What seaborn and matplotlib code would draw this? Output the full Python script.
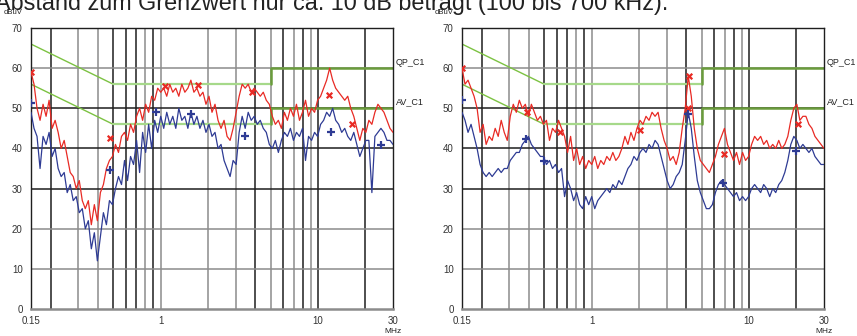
import numpy as np
import pandas as pd
import seaborn as sns
import matplotlib.pyplot as plt
import matplotlib.transforms as mtransforms

#################
# Measured data #
#################

# receiver sweep grid (MHz), same for all four traces
freq = np.geomspace(0.15, 30, 121)

left_qp = [59, 56, 50, 47, 51, 48, 52, 45, 47, 44, 40, 42, 38, 34, 33, 30, 32, 27, 25, 27,
           21, 26, 22, 29, 31, 35, 37, 38, 41, 39, 43, 44, 42, 46, 44, 48, 50, 47, 51, 49,
           53, 52, 55, 54, 55, 53, 56, 54, 55, 53, 56, 54, 55, 57, 54, 55, 53, 54, 51, 53,
           49, 51, 47, 45, 47, 43, 42, 45, 49, 53, 56, 55, 56, 54, 55, 54, 53, 54, 52, 51,
           48, 46, 47, 45, 49, 47, 50, 48, 51, 47, 49, 52, 48, 50, 49, 52, 53, 55, 57, 60,
           57, 55, 54, 53, 52, 53, 50, 48, 45, 42, 45, 44, 47, 46, 49, 51, 50, 49, 47, 45,
           44]
left_av = [49, 45, 43, 35, 43, 41, 44, 38, 40, 35, 33, 34, 29, 31, 27, 28, 24, 25, 20, 22,
           15, 19, 12, 18, 24, 21, 27, 26, 30, 33, 31, 37, 32, 38, 36, 42, 34, 44, 39, 46,
           40, 47, 44, 48, 45, 49, 46, 48, 45, 50, 47, 48, 45, 49, 46, 48, 45, 47, 44, 46,
           43, 44, 40, 41, 37, 35, 33, 37, 36, 44, 48, 45, 49, 47, 48, 46, 47, 45, 44, 41,
           40, 42, 39, 42, 44, 43, 45, 42, 44, 43, 45, 37, 43, 42, 44, 43, 46, 47, 49, 48,
           50, 47, 46, 44, 45, 43, 42, 44, 41, 38, 40, 42, 42, 29, 43, 44, 45, 44, 42, 42,
           41]
right_qp = [60, 56, 57, 55, 53, 50, 44, 46, 41, 43, 42, 45, 43, 47, 44, 42, 48, 51, 49, 52,
            50, 51, 48, 51, 49, 47, 48, 46, 47, 42, 45, 44, 47, 45, 43, 39, 43, 37, 40, 36,
            38, 35, 37, 36, 38, 35, 37, 36, 38, 37, 39, 37, 38, 40, 43, 41, 44, 42, 45, 47,
            46, 48, 47, 49, 48, 49, 45, 42, 40, 37, 38, 36, 39, 45, 50, 58, 53, 45, 40, 37,
            36, 35, 34, 36, 38, 41, 43, 45, 41, 39, 37, 39, 36, 39, 37, 38, 41, 43, 42, 43,
            41, 42, 40, 41, 40, 42, 40, 41, 43, 47, 50, 51, 47, 48, 48, 46, 45, 43, 42, 41,
            40]
right_av = [49, 47, 44, 46, 43, 40, 36, 34, 33, 34, 33, 34, 35, 34, 35, 35, 37, 38, 39, 39,
            41, 42, 43, 41, 40, 39, 38, 38, 36, 37, 35, 36, 34, 35, 28, 32, 30, 27, 29, 26,
            25, 28, 26, 28, 25, 27, 28, 29, 30, 29, 31, 30, 32, 31, 33, 35, 36, 38, 37, 39,
            40, 39, 41, 40, 42, 41, 38, 35, 32, 30, 31, 33, 34, 36, 42, 49, 45, 38, 32, 29,
            27, 25, 25, 26, 29, 31, 32, 31, 30, 29, 28, 29, 27, 28, 27, 28, 30, 31, 30, 29,
            31, 30, 28, 30, 29, 31, 32, 34, 37, 41, 43, 42, 40, 41, 40, 39, 40, 38, 37, 36,
            36]

# final measurement points
left_qp_mark_f = [0.15, 0.48, 1.07, 1.73, 3.8, 11.8, 16.5]
left_qp_mark_v = [59, 42.5, 55.5, 55.7, 54, 53.3, 46]
left_av_mark_f = [0.15, 0.48, 0.94, 1.55, 3.42, 12.1, 25.2]
left_av_mark_v = [51.2, 34.7, 49, 48.5, 43, 44, 40.8]
right_qp_mark_f = [0.15, 0.39, 0.63, 2.04, 4.14, 4.1, 6.9, 20.4]
right_qp_mark_v = [60, 49, 44, 44.7, 58, 50, 38.5, 46]
right_av_mark_f = [0.15, 0.38, 0.5, 4.1, 6.8, 20]
right_av_mark_v = [52, 42.3, 36.8, 48.5, 31.5, 39.3]

# limit lines (EN 55022 class B style)
qp_slope_f, qp_slope_v = [0.15, 0.5], [66, 56]
qp_mid_f, qp_mid_v = [0.5, 5], [56, 56]
qp_high_f, qp_high_v = [5, 5, 30], [56, 60, 60]
av_slope_f, av_slope_v = [0.15, 0.5], [56, 46]
av_mid_f, av_mid_v = [0.5, 5], [46, 46]
av_high_f, av_high_v = [5, 5, 30], [46, 50, 50]

grid_f = [0.2, 0.3, 0.4, 0.5, 0.6, 0.7, 0.8, 0.9, 1, 2, 3, 4, 5, 6, 7, 8, 9, 10, 20]
grid_dark = [1, 0, 0, 1, 1, 1, 0, 1, 0, 0, 0, 1, 0, 1, 0, 1, 0, 1, 1]
grid_db = [10, 20, 30, 40, 50, 60]
grid_db_dark = [0, 0, 1, 1, 1, 0]

title_text = "Abstand zum Grenzwert nur ca. 10 dB beträgt (100 bis 700 kHz)."

###########
# Drawing #
###########

sns.set_style("white")
plt.rcParams['font.family'] = ['Liberation Sans', 'DejaVu Sans']

RED = '#e82a24'
BLUE = '#2e3b94'
DARK = '#1e1e1e'
GREY = '#8c8c8c'

fig = plt.figure(figsize=(8.57, 3.36), dpi=100)
ax_l = fig.add_axes([31 / 857, 1 - 309 / 336, 362 / 857, 281 / 336])
ax_r = fig.add_axes([462 / 857, 1 - 309 / 336, 362 / 857, 281 / 336])


def draw_panel(ax, qp, av, qp_mf, qp_mv, av_mf, av_mv):
    ax.set_xscale('log')
    ax.set_xlim(0.15, 30)
    ax.set_ylim(0, 70)

    for f, d in zip(grid_f, grid_dark):
        ax.axvline(f, color=DARK if d else GREY, lw=1.1, zorder=1)
    for v, d in zip(grid_db, grid_db_dark):
        ax.axhline(v, color=DARK if d else GREY, lw=1.1, zorder=1)

    ax.plot(qp_slope_f, qp_slope_v, color='#7cc242', lw=1.0, zorder=2)
    ax.plot(av_slope_f, av_slope_v, color='#7cc242', lw=1.0, zorder=2)
    ax.plot(qp_mid_f, qp_mid_v, color='#a6d98a', lw=1.6, zorder=2)
    ax.plot(av_mid_f, av_mid_v, color='#a6d98a', lw=1.6, zorder=2)
    ax.plot(qp_high_f, qp_high_v, color='#6a9c3c', lw=1.8, zorder=2)
    ax.plot(av_high_f, av_high_v, color='#6a9c3c', lw=1.8, zorder=2)

    sns.lineplot(x=freq, y=av, ax=ax, color=BLUE, lw=0.9, estimator=None, zorder=3)
    sns.lineplot(x=freq, y=qp, ax=ax, color=RED, lw=0.9, estimator=None, zorder=4)
    sns.scatterplot(x=qp_mf, y=qp_mv, ax=ax, marker='x', color=RED, s=16,
                    linewidth=1.6, zorder=5)
    sns.scatterplot(x=av_mf, y=av_mv, ax=ax, marker='+', color=BLUE, s=26,
                    linewidth=1.6, zorder=5)

    ax.set_xticks([0.15, 1, 10, 30])
    ax.set_xticklabels(['0.15', '1', '10', '30'])
    ax.minorticks_off()
    ax.set_yticks([0, 10, 20, 30, 40, 50, 60, 70])
    ax.tick_params(axis='both', length=0, labelsize=7, colors='#333333')
    ax.tick_params(axis='y', pad=6)
    ax.tick_params(axis='x', pad=5)
    ax.set_xlabel('')
    ax.set_ylabel('')

    for side in ['left', 'top', 'right']:
        ax.spines[side].set_color(DARK)
        ax.spines[side].set_linewidth(1.0)
    ax.spines['bottom'].set_color(GREY)
    ax.spines['bottom'].set_linewidth(1.8)

    tr = mtransforms.blended_transform_factory(ax.transAxes, ax.transData)
    ax.text(1.008, 60.4, 'QP_C1', transform=tr, fontsize=6.5, color='#222222', va='bottom')
    ax.text(1.008, 50.4, 'AV_C1', transform=tr, fontsize=6.5, color='#222222', va='bottom')
    ax.text(1.0, -4.8, 'MHz', transform=tr, fontsize=6.0, color='#222222', ha='center', va='top')
    ax.text(-0.075, 73.0, 'dBuV', transform=tr, fontsize=5.5, color='#222222', va='bottom')


draw_panel(ax_l, left_qp, left_av, left_qp_mark_f, left_qp_mark_v, left_av_mark_f, left_av_mark_v)
draw_panel(ax_r, right_qp, right_av, right_qp_mark_f, right_qp_mark_v, right_av_mark_f, right_av_mark_v)

fig.text(-0.006, 1 - 10 / 336, title_text, fontsize=16.8, color='#222222', va='baseline')

fig.savefig('out.png', dpi=100)
